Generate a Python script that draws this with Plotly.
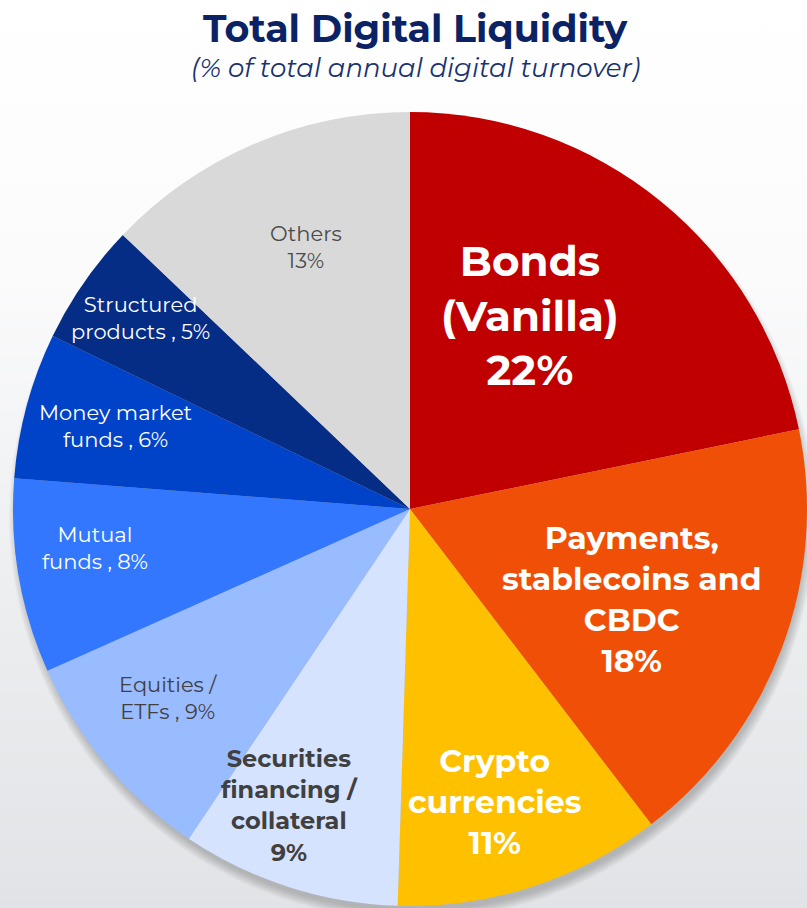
import math
import numpy as np
import plotly.graph_objects as go

# --- data -------------------------------------------------------------
categories = [
    "Bonds (Vanilla)",
    "Payments, stablecoins and CBDC",
    "Crypto currencies",
    "Securities financing / collateral",
    "Equities / ETFs",
    "Mutual funds",
    "Money market funds",
    "Structured products",
    "Others",
]
shares = [22, 18, 11, 9, 9, 8, 6, 5, 13]
label_names = [
    "Bonds<br>(Vanilla)",
    "Payments,<br>stablecoins and<br>CBDC",
    "Crypto<br>currencies",
    "Securities<br>financing /<br>collateral",
    "Equities /<br>ETFs ,",
    "Mutual<br>funds ,",
    "Money market<br>funds ,",
    "Structured<br>products ,",
    "Others",
]
name_pct_sep = ["<br>", "<br>", "<br>", "<br>", " ", " ", " ", " ", "<br>"]

# --- styling ----------------------------------------------------------
colors = ["#C00000", "#F04F08", "#FFC000", "#D6E3FF", "#99BBFF",
          "#3377FF", "#0042C8", "#062D86", "#D9D9D9"]
label_colors = ["white", "white", "white", "#404040", "#404040",
                "white", "white", "white", "#4a4a4a"]
label_sizes = [42, 31.5, 31.5, 24, 21, 21, 21, 21, 21]
label_bold = [True, True, True, True, False, False, False, False, False]
label_radius = [0.574, 0.604, 0.768, 0.805, 0.773, 0.80, 0.772, 0.831, 0.71]
label_turn = [-7.5, 1.8, 1.8, 4.3, 2.1, 2.7, 0.6, 0.6, 1.5]

FONT = "Montserrat, Inter, Open Sans, sans-serif"
NAVY = "#0B2265"

W, H = 807, 908
CX, CY, R = 410, 509, 397  # pie centre and radius in pixels

fig = go.Figure()

# soft background wash: white at the top, light grey towards the bottom
fig.add_trace(go.Scatter(
    x=[0, W, W, 0, 0], y=[0, 0, H, H, 0], mode="lines",
    fill="toself", line=dict(width=0),
    fillgradient=dict(type="vertical",
                      colorscale=[[0, "#e1e3e6"], [0.35, "#eceef0"],
                                  [0.7, "#fbfbfc"], [1, "#ffffff"]]),
    hoverinfo="skip", showlegend=False,
))

# drop shadow under the pie, mostly below it
t = np.linspace(0, 2 * np.pi, 240)
for k in range(1, 11):
    rr = R - 4 + k
    fig.add_trace(go.Scatter(
        x=CX + 2 + rr * np.cos(t), y=CY + 8 + rr * np.sin(t),
        mode="lines", fill="toself", line=dict(width=0),
        fillcolor="rgba(60,65,75,0.03)",
        hoverinfo="skip", showlegend=False,
    ))

fig.add_trace(go.Pie(
    labels=categories,
    values=shares,
    sort=False,
    direction="clockwise",
    rotation=0,
    marker=dict(colors=colors, line=dict(width=0)),
    textinfo="none",
    hovertemplate="%{label}: %{value}%<extra></extra>",
    domain=dict(x=[(CX - R) / W, (CX + R) / W],
                y=[1 - (CY + R) / H, 1 - (CY - R) / H]),
    showlegend=False,
))

# slice labels placed along each slice's bisector
total = sum(shares)
start = 0.0
for i, v in enumerate(shares):
    span = v / total * 360.0
    ang = math.radians(start + span / 2 + label_turn[i])
    start += span
    r = label_radius[i] * R
    px = CX + r * math.sin(ang)
    py = CY - r * math.cos(ang)
    txt = f"{label_names[i]}{name_pct_sep[i]}{v}%"
    if label_bold[i]:
        txt = f"<b>{txt}</b>"
    fig.add_annotation(
        x=px / W, y=1 - py / H, xref="paper", yref="paper",
        text=txt, showarrow=False, xanchor="center", yanchor="middle",
        align="center",
        font=dict(family=FONT, size=label_sizes[i], color=label_colors[i]),
    )

fig.add_annotation(
    x=416 / W, y=1 - 28 / H, xref="paper", yref="paper",
    text="<b>Total Digital Liquidity</b>", showarrow=False,
    xanchor="center", yanchor="middle",
    font=dict(family=FONT, size=38, color=NAVY),
)
fig.add_annotation(
    x=416 / W, y=1 - 68 / H, xref="paper", yref="paper",
    text="<i>(% of total annual digital turnover)</i>", showarrow=False,
    xanchor="center", yanchor="middle",
    font=dict(family=FONT, size=26, color="#18336F"),
)

fig.update_layout(
    width=W, height=H,
    margin=dict(l=0, r=0, t=0, b=0),
    paper_bgcolor="white", plot_bgcolor="white",
    xaxis=dict(range=[0, W], visible=False, fixedrange=True),
    yaxis=dict(range=[H, 0], visible=False, fixedrange=True),
    showlegend=False,
)

fig.write_html("out.html")
